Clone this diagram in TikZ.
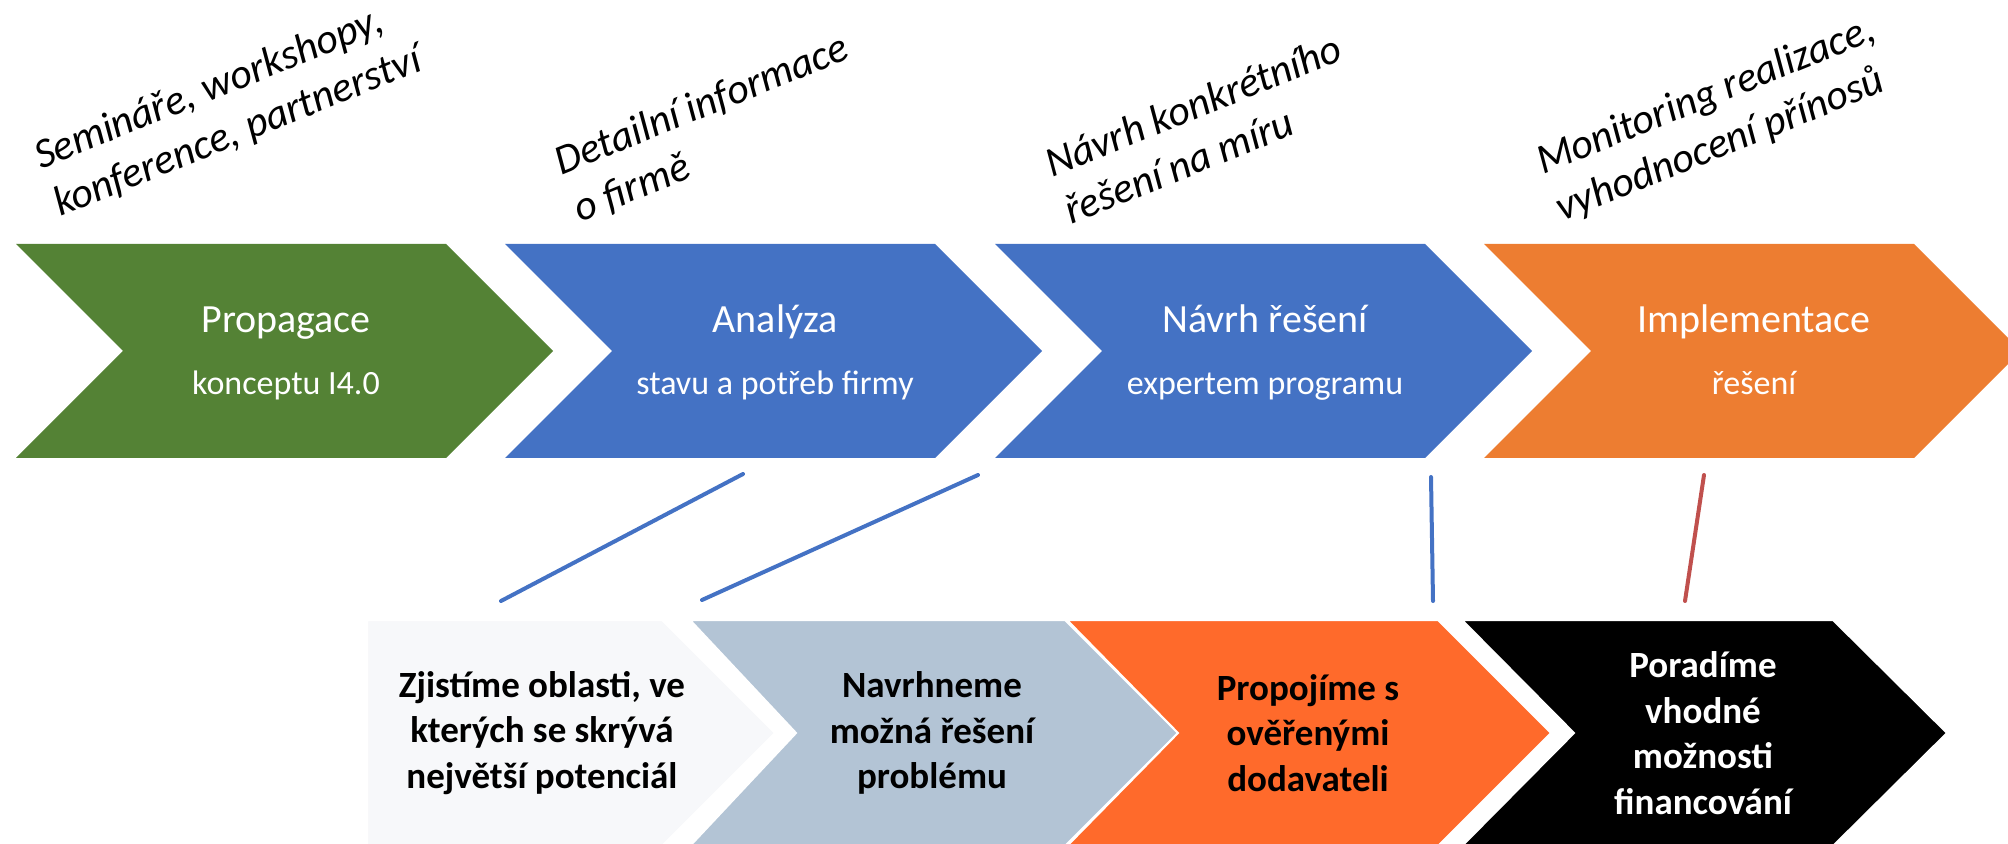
\documentclass[tikz,border=0pt]{standalone}
\usepackage{fontspec}
\setmainfont{Carlito}
\definecolor{stgreen}{HTML}{548235}
\definecolor{stblue}{HTML}{4472C4}
\definecolor{storange}{HTML}{ED7D31}
\definecolor{stlight}{HTML}{F7F8FA}
\definecolor{stgrey}{HTML}{B3C4D5}
\definecolor{stred}{HTML}{FF6A2B}
\definecolor{linkred}{HTML}{C0504D}
\tikzset{
  toplabel/.style={rotate=22, anchor=west, inner sep=0pt, align=left, font=\fontsize{21}{25.5}\selectfont\itshape},
  stagetitle/.style={anchor=base, text=white, inner sep=0pt, font=\fontsize{20}{24}\selectfont},
  stagesub/.style={anchor=base, text=white, inner sep=0pt, font=\fontsize{17}{20}\selectfont},
  stepbox/.style={draw=white, line width=1pt},
  steptext/.style={align=center, inner sep=0pt, font=\fontsize{18.5}{22.75}\selectfont\bfseries},
  link/.style={line width=2pt, line cap=round},
}
\begin{document}
\begin{tikzpicture}[x=0.5pt,y=-0.5pt]
\useasboundingbox (0,0) rectangle (2008,844);
\clip (0,0) rectangle (2008,844);
%\draw [help lines,step=100] (0,0) grid (2008,844);
% upper row
\fill[stgreen]  (16,244)--(446,244)--(553,351)--(446,458)--(16,458)--(123,351)--cycle;
\fill[stblue]   (505,244)--(935,244)--(1042,351)--(935,458)--(505,458)--(612,351)--cycle;
\fill[stblue]   (995,244)--(1425,244)--(1532,351)--(1425,458)--(995,458)--(1102,351)--cycle;
\fill[storange] (1484,244)--(1914,244)--(2021,351)--(1914,458)--(1484,458)--(1591,351)--cycle;
\node[stagetitle] (prop)    at (286,333)  {Propagace};
\node[stagesub]   (propsub) at (286,395)  {konceptu I4.0};
\node[stagetitle] (anal)    at (775,333)  {Analýza};
\node[stagesub]   (analsub) at (775,395)  {stavu a potřeb firmy};
\node[stagetitle] (navr)    at (1265,333) {Návrh řešení};
\node[stagesub]   (navrsub) at (1265,395) {expertem programu};
\node[stagetitle] (impl)    at (1754,333) {Implementace};
\node[stagesub]   (implsub) at (1754,395) {řešení};
% labels above
\node[toplabel] (lab1) at (46,183)   {Semináře, workshopy,\\konference, partnerství};
\node[toplabel] (lab2) at (566,188)  {Detailní informace\\o firmě};
\node[toplabel] (lab3) at (1056,188) {Návrh konkrétního\\řešení na míru};
\node[toplabel] (lab4) at (1548,188) {Monitoring realizace,\\vyhodnocení přínosů};
% lower row
\filldraw[stepbox,fill=stlight] (367,620)--(662,620)--(775,733)--(662,846)--(367,846)--cycle;
\filldraw[stepbox,fill=stgrey]  (690,620)--(1065,620)--(1178,733)--(1065,846)--(690,846)--(796,733)--cycle;
\filldraw[stepbox,fill=stred]   (1067,620)--(1438,620)--(1551,733)--(1438,846)--(1067,846)--(1178,733)--cycle;
\filldraw[stepbox,fill=black]   (1462,620)--(1833,620)--(1947,733)--(1833,846)--(1462,846)--(1574,733)--cycle;
\node[steptext] (step1) at (542,733)  {Zjistíme oblasti, ve\\kterých se skrývá\\největší potenciál};
\node[steptext] (step2) at (932,733)  {Navrhneme\\možná řešení\\problému};
\node[steptext] (step3) at (1308,733) {Propojíme s\\ověřenými\\dodavateli};
\node[steptext,text=white] (step4) at (1703,733) {Poradíme\\vhodné\\možnosti\\financování};
% connectors
\coordinate (a1) at (743,474);  \coordinate (b1) at (501,601);
\coordinate (a2) at (978,475);  \coordinate (b2) at (702,600);
\coordinate (a3) at (1431,477); \coordinate (b3) at (1433,601);
\coordinate (a4) at (1704,475); \coordinate (b4) at (1685,601);
\draw[link,stblue] (a1)--(b1);
\draw[link,stblue] (a2)--(b2);
\draw[link,stblue] (a3)--(b3);
\draw[link,linkred] (a4)--(b4);
\end{tikzpicture}
\end{document}
